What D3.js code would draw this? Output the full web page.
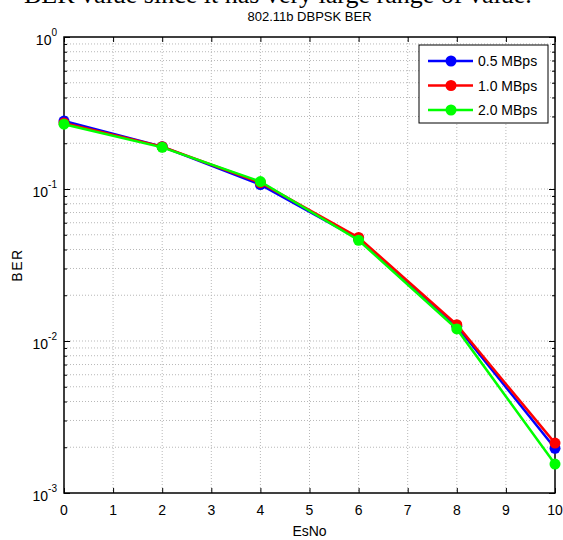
<!DOCTYPE html>
<html>
<head>
<meta charset="utf-8">
<script src="https://cdn.jsdelivr.net/npm/d3@7"></script>
<style>
  html, body { margin: 0; padding: 0; background: #fff; }
  svg { display: block; }
</style>
</head>
<body>
<svg id="chart" width="563" height="540"></svg>
<script>
const esno = [0, 2, 4, 6, 8, 10];
const ber05 = [0.280, 0.190, 0.107, 0.047, 0.0125, 0.00197];
const ber10 = [0.272, 0.190, 0.110, 0.048, 0.0128, 0.00213];
const ber20 = [0.267, 0.188, 0.112, 0.046, 0.0120, 0.00155];
const seriesNames = ["0.5 MBps", "1.0 MBps", "2.0 MBps"];
const seriesColors = ["#0000ff", "#ff0000", "#00ff00"];
const xTicks = [0, 1, 2, 3, 4, 5, 6, 7, 8, 9, 10];
const yExps = [0, -1, -2, -3];
const titleText = "802.11b DBPSK BER";
const xLabel = "EsNo";
const yLabel = "BER";
const headerText = "BER value since it has very large range of value.";

const svg = d3.select("#chart");
const L = 64, R = 555, T = 37, B = 493;
const x = d3.scaleLinear().domain([0, 10]).range([L, R]);
const y = d3.scaleLog().domain([1e-3, 1]).range([B, T]);
const font = "'Liberation Sans', Arial, sans-serif";

// header text (cropped at the top edge, as in the reference)
svg.append("text").attr("x", 24).attr("y", 3)
  .attr("font-family", "'Liberation Serif', 'Times New Roman', serif")
  .attr("font-size", 26).attr("fill", "#000").text(headerText);

// minor values
const minors = [];
for (let e = -3; e < 0; e++) for (let m = 2; m <= 9; m++) minors.push(m * Math.pow(10, e));
const majors = yExps.map(e => Math.pow(10, e));

const grid = svg.append("g").attr("stroke", "#b8b8b8").attr("stroke-width", 1)
  .attr("stroke-dasharray", "1,2");
grid.selectAll(".gx").data(xTicks.slice(1, -1)).join("line")
  .attr("x1", d => x(d)).attr("x2", d => x(d)).attr("y1", T).attr("y2", B);
grid.selectAll(".gy").data(minors.concat(majors.slice(1, -1))).join("line")
  .attr("x1", L).attr("x2", R).attr("y1", d => y(d)).attr("y2", d => y(d));

// axes via d3
const xAxisB = d3.axisBottom(x).tickValues(xTicks).tickSize(-5).tickFormat("");
const xAxisT = d3.axisTop(x).tickValues(xTicks).tickSize(-5).tickFormat("");
const yAxisL = d3.axisLeft(y).tickValues(majors).tickSize(-6).tickFormat("");
const yAxisR = d3.axisRight(y).tickValues(majors).tickSize(-6).tickFormat("");
const yMinL = d3.axisLeft(y).tickValues(minors).tickSize(-3).tickFormat("");
const yMinR = d3.axisRight(y).tickValues(minors).tickSize(-3).tickFormat("");
function styleAxis(g) {
  g.select(".domain").remove();
  g.selectAll(".tick line").attr("stroke", "#000").attr("stroke-width", 1);
}
svg.append("g").attr("transform", `translate(0,${B})`).call(xAxisB).call(styleAxis);
svg.append("g").attr("transform", `translate(0,${T})`).call(xAxisT).call(styleAxis);
svg.append("g").attr("transform", `translate(${L},0)`).call(yAxisL).call(styleAxis);
svg.append("g").attr("transform", `translate(${R},0)`).call(yAxisR).call(styleAxis);
svg.append("g").attr("transform", `translate(${L},0)`).call(yMinL).call(styleAxis);
svg.append("g").attr("transform", `translate(${R},0)`).call(yMinR).call(styleAxis);

// frame
svg.append("rect").attr("x", L).attr("y", T).attr("width", R - L).attr("height", B - T)
  .attr("fill", "none").attr("stroke", "#000").attr("stroke-width", 1.5);

// x tick labels
svg.append("g").selectAll("text").data(xTicks).join("text")
  .attr("x", d => x(d)).attr("y", B + 22).attr("text-anchor", "middle")
  .attr("font-family", font).attr("font-size", 14).attr("fill", "#000").text(d => d);

// y tick labels 10^e
const yl = svg.append("g").selectAll("text").data(yExps).join("text")
  .attr("x", L - 7).attr("y", d => y(Math.pow(10, d)) + 8).attr("text-anchor", "end")
  .attr("font-family", font).attr("font-size", 14).attr("fill", "#000");
yl.append("tspan").text("10");
yl.append("tspan").attr("dy", -9).attr("font-size", 10).text(d => d);

// title and labels
svg.append("text").attr("x", (L + R) / 2).attr("y", 21).attr("text-anchor", "middle")
  .attr("font-family", font).attr("font-size", 13).attr("fill", "#000").text(titleText);
svg.append("text").attr("x", (L + R) / 2).attr("y", 536).attr("text-anchor", "middle")
  .attr("font-family", font).attr("font-size", 14).attr("fill", "#000").text(xLabel);
svg.append("text").attr("transform", `translate(22,${(T + B) / 2}) rotate(-90)`)
  .attr("text-anchor", "middle").attr("letter-spacing", 1.5)
  .attr("font-family", font).attr("font-size", 14).attr("fill", "#000").text(yLabel);

// series
const seriesData = [ber05, ber10, ber20];
const line = d3.line().x((d, i) => x(esno[i])).y(d => y(d));
seriesData.forEach((vals, si) => {
  const g = svg.append("g");
  g.append("path").datum(vals).attr("d", line).attr("fill", "none")
    .attr("stroke", seriesColors[si]).attr("stroke-width", 2.5);
  g.selectAll("circle").data(vals).join("circle")
    .attr("cx", (d, i) => x(esno[i])).attr("cy", d => y(d)).attr("r", 5.5)
    .attr("fill", seriesColors[si]);
});

// legend
const lg = svg.append("g");
lg.append("rect").attr("x", 419).attr("y", 45).attr("width", 129).attr("height", 78)
  .attr("fill", "#fff").attr("stroke", "#000").attr("stroke-width", 1);
seriesNames.forEach((n, i) => {
  const yy = 61 + i * 24.5;
  lg.append("line").attr("x1", 428).attr("x2", 473).attr("y1", yy).attr("y2", yy)
    .attr("stroke", seriesColors[i]).attr("stroke-width", 2.5);
  lg.append("circle").attr("cx", 451).attr("cy", yy).attr("r", 5.5).attr("fill", seriesColors[i]);
  lg.append("text").attr("x", 478).attr("y", yy + 5).attr("font-family", font)
    .attr("font-size", 14).attr("fill", "#000").text(n);
});
</script>
</body>
</html>
